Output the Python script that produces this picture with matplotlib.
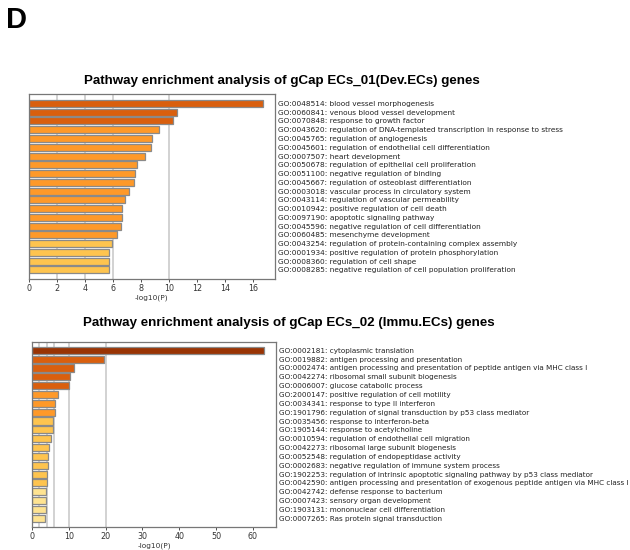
import matplotlib
matplotlib.use("Agg")
import matplotlib.pyplot as plt
import numpy as np

# ---------------- data ----------------
terms_1 = [
    "GO:0048514: blood vessel morphogenesis",
    "GO:0060841: venous blood vessel development",
    "GO:0070848: response to growth factor",
    "GO:0043620: regulation of DNA-templated transcription in response to stress",
    "GO:0045765: regulation of angiogenesis",
    "GO:0045601: regulation of endothelial cell differentiation",
    "GO:0007507: heart development",
    "GO:0050678: regulation of epithelial cell proliferation",
    "GO:0051100: negative regulation of binding",
    "GO:0045667: regulation of osteoblast differentiation",
    "GO:0003018: vascular process in circulatory system",
    "GO:0043114: regulation of vascular permeability",
    "GO:0010942: positive regulation of cell death",
    "GO:0097190: apoptotic signaling pathway",
    "GO:0045596: negative regulation of cell differentiation",
    "GO:0060485: mesenchyme development",
    "GO:0043254: regulation of protein-containing complex assembly",
    "GO:0001934: positive regulation of protein phosphorylation",
    "GO:0008360: regulation of cell shape",
    "GO:0008285: negative regulation of cell population proliferation",
]
logp_1 = [16.74, 10.60, 10.31, 9.29, 8.81, 8.69, 8.33, 7.74, 7.55, 7.48,
          7.14, 6.88, 6.67, 6.67, 6.60, 6.33, 5.95, 5.76, 5.74, 5.71]

terms_2 = [
    "GO:0002181: cytoplasmic translation",
    "GO:0019882: antigen processing and presentation",
    "GO:0002474: antigen processing and presentation of peptide antigen via MHC class I",
    "GO:0042274: ribosomal small subunit biogenesis",
    "GO:0006007: glucose catabolic process",
    "GO:2000147: positive regulation of cell motility",
    "GO:0034341: response to type II interferon",
    "GO:1901796: regulation of signal transduction by p53 class mediator",
    "GO:0035456: response to interferon-beta",
    "GO:1905144: response to acetylcholine",
    "GO:0010594: regulation of endothelial cell migration",
    "GO:0042273: ribosomal large subunit biogenesis",
    "GO:0052548: regulation of endopeptidase activity",
    "GO:0002683: negative regulation of immune system process",
    "GO:1902253: regulation of intrinsic apoptotic signaling pathway by p53 class mediator",
    "GO:0042590: antigen processing and presentation of exogenous peptide antigen via MHC class I",
    "GO:0042742: defense response to bacterium",
    "GO:0007423: sensory organ development",
    "GO:1903131: mononuclear cell differentiation",
    "GO:0007265: Ras protein signal transduction",
]
logp_2 = [63.1, 19.6, 11.4, 10.2, 10.0, 7.1, 6.3, 6.15, 5.8, 5.6,
          5.2, 4.7, 4.4, 4.3, 4.2, 4.1, 3.9, 3.8, 3.7, 3.6]

titles = [
    "Pathway enrichment analysis of gCap ECs_01(Dev.ECs) genes",
    "Pathway enrichment analysis of gCap ECs_02 (Immu.ECs) genes",
]
grid_levels = [2, 4, 6, 10, 20]
color_bins = [4, 6, 10, 20]
palette = ["#FEE391", "#FEC44F", "#FE9929", "#D95F0E", "#993404"]

# ---------------- figure ----------------
W, H = 630, 550
fig = plt.figure(figsize=(W / 100, H / 100), dpi=100)
fig.patch.set_facecolor("white")


def px_axes(left, top, right, bottom):
    return fig.add_axes([left / W, 1 - bottom / H, (right - left) / W, (bottom - top) / H])


def draw(ax, terms, vals, xmax, ylim_pad, fs):
    n = len(vals)
    y = np.arange(n)
    cols = [palette[i] for i in np.digitize(vals, color_bins)]
    for g in grid_levels:
        if g < xmax:
            ax.axvline(g, color="#cfcfcf", lw=1.3, zorder=0)
    ax.barh(y, vals, height=0.8, color=cols, edgecolor="#8a8a8a",
            linewidth=0.9, zorder=2)
    ax.set_xlim(0, xmax)
    ax.set_ylim(n - 1 + ylim_pad[1], -ylim_pad[0])
    ax.set_yticks(y)
    ax.set_yticklabels(terms, fontsize=fs, color="#222222",
                       family="DejaVu Sans")
    ax.yaxis.tick_right()
    ax.tick_params(axis="y", length=0, pad=2.0)
    ax.tick_params(axis="x", labelsize=5.8, length=2.5, width=0.6,
                   pad=1.2, colors="#333333")
    ax.set_xlabel("-log10(P)", fontsize=5.3, labelpad=1.2, color="#333333")
    for s in ax.spines.values():
        s.set_color("#777777")
        s.set_linewidth(0.9)


ax1 = px_axes(28.7, 94, 275, 279)
draw(ax1, terms_1, logp_1, 17.57, (1.08, 1.03), 5.3)
ax1.set_xticks([0, 2, 4, 6, 8, 10, 12, 14, 16])

ax2 = px_axes(32, 341.7, 276, 526.7)
draw(ax2, terms_2, logp_2, 66.25, (0.97, 0.95), 5.2)
ax2.set_xticks([0, 10, 20, 30, 40, 50, 60])

fig.text(6 / W, 1 - 20 / H, "D", fontsize=21, fontweight="bold",
         family=["Liberation Sans", "DejaVu Sans"], ha="left", va="center")
fig.text(281.5 / W, 1 - 81 / H, titles[0], fontsize=9.6, fontweight="bold",
         family=["Liberation Sans", "DejaVu Sans"],
         ha="center", va="center")
fig.text(288.5 / W, 1 - 323 / H, titles[1], fontsize=9.6, fontweight="bold",
         family=["Liberation Sans", "DejaVu Sans"],
         ha="center", va="center")

fig.savefig("out.png", dpi=100, facecolor="white")
